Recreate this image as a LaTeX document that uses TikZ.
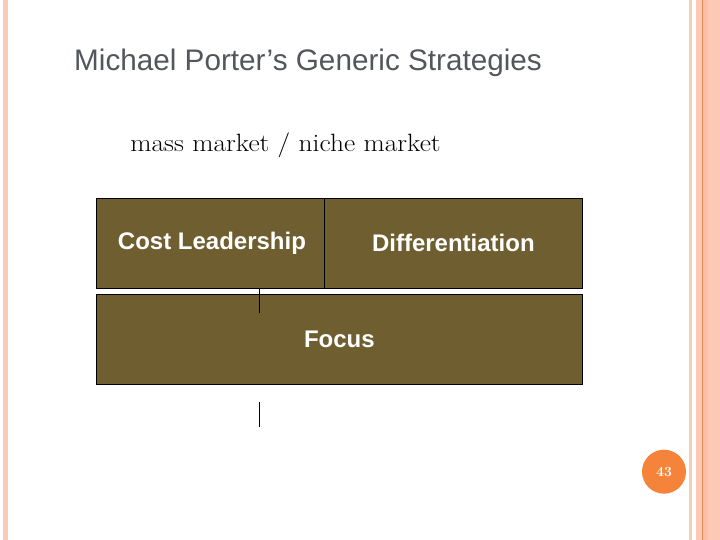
\documentclass[tikz,border=0pt]{standalone}
\usepackage{fontspec}
\newfontfamily\arialfont{Liberation Sans}
\definecolor{olive}{HTML}{6F5F30}
\definecolor{stripe}{HTML}{F8CBB9}
\definecolor{peach}{HTML}{FDC9B6}
\definecolor{peachdark}{HTML}{FBBFA4}
\definecolor{orangeline}{HTML}{E58A5C}
\definecolor{badge}{HTML}{F5843A}
\definecolor{titlegray}{HTML}{53575C}
\begin{document}
\begin{tikzpicture}[x=1bp,y=-1bp,
  box/.style={draw=black,line width=0.8bp,fill=olive,text=white,
    font=\arialfont\bfseries\fontsize{24bp}{28bp}\selectfont,inner sep=0pt},
  tick/.style={draw=black,line width=1bp}]
\useasboundingbox (0,0) rectangle (720,540);
\fill[white] (0,0) rectangle (720,540);
% left stripe
\fill[stripe] (3,0) rectangle (8,540);
% right stripes
\fill[stripe] (688.5,0) rectangle (692,540);
\fill[peach] (696,0) rectangle (720,540);
\fill[peachdark] (703,0) rectangle (708,540);
\fill[orangeline] (701.8,0) rectangle (703,540);
% title
\node[anchor=base west,inner sep=0pt,text=titlegray,
  font=\arialfont\fontsize{29.7bp}{34bp}\selectfont] (title) at (74,70.7)
  {Michael Porter’s Generic Strategies};
\node[anchor=base,inner sep=0pt,xscale=1.1,transform shape,
  font=\fontsize{25bp}{29bp}\selectfont] (sub) at (285.5,151.7)
  {mass market / niche market};
% boxes
\node[box,minimum width=228bp,minimum height=90bp] (cost) at (210,243.3) {\hspace{4bp}Cost Leadership};
\node[box,minimum width=258.7bp,minimum height=90bp] (diff) at (453.35,243.3) {Differentiation};
\node[box,minimum width=486.7bp,minimum height=90bp] (focus) at (339.35,339.3) {Focus};
% stray ticks
\coordinate (t1a) at (259,288.3);
\coordinate (t1b) at (259,312.7);
\coordinate (t2a) at (259,401.7);
\coordinate (t2b) at (259,426.7);
\draw[tick] (t1a) -- (t1b);
\draw[tick] (t2a) -- (t2b);
% page number
\node[circle,fill=badge,minimum size=44bp,inner sep=0pt,text=white,
  font=\bfseries\fontsize{14bp}{16bp}\selectfont] (page) at (664,471.7) {43};
\end{tikzpicture}
\end{document}
